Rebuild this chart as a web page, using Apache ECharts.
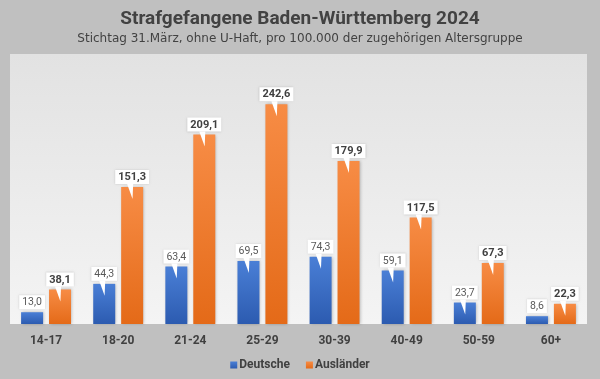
<!DOCTYPE html>
<html>
<head>
<meta charset="utf-8">
<script src="https://cdn.jsdelivr.net/npm/echarts@6/dist/echarts.min.js"></script>
<style>
html,body{margin:0;padding:0;background:#c0c0c0;}
#c{width:600px;height:379px;}
</style>
</head>
<body>
<div id="c"></div>
<script>
const categories = ['14-17','18-20','21-24','25-29','30-39','40-49','50-59','60+'];
const deutsche = [13.0, 44.3, 63.4, 69.5, 74.3, 59.1, 23.7, 8.6];
const auslaender = [38.1, 151.3, 209.1, 242.6, 179.9, 117.5, 67.3, 22.3];
const seriesNames = ['Deutsche', 'Ausländer'];
const titleText = 'Strafgefangene Baden-Württemberg 2024';
const subtitleText = 'Stichtag 31.März, ohne U-Haft, pro 100.000 der zugehörigen Altersgruppe';

const FONT = 'Roboto, "DejaVu Sans", sans-serif';
const YMAX = 298;
const chart = echarts.init(document.getElementById('c'), null, {renderer:'canvas'});
const fmt = p => p.value.toFixed(1).replace('.', ',');
function wedgeData(arr){
  return arr.map(v => ({value: v, symbolSize: (v / YMAX * 270 > 16) ? [6, 15] : [0, 0]}));
}
const blueGrad = new echarts.graphic.LinearGradient(0,0,0,1,[{offset:0,color:'#4a7fd6'},{offset:1,color:'#2c5bb0'}]);
const orangeGrad = new echarts.graphic.LinearGradient(0,0,0,1,[{offset:0,color:'#f78c45'},{offset:1,color:'#e46a18'}]);
const wedgePath = 'path://M0,0 L10,0 L9,30 Z';

chart.setOption({
  backgroundColor: '#c0c0c0',
  animation: false,
  title: [
    {text: titleText, left: 'center', top: 5,
     textStyle: {fontFamily: FONT, fontSize: 19, fontWeight: 'bold', color: '#424242'}},
    {text: subtitleText, left: 'center', top: 28,
     textStyle: {fontFamily: '"DejaVu Sans", sans-serif', fontSize: 12, fontWeight: 'normal', color: '#424242'}}
  ],
  legend: {
    data: seriesNames, bottom: 3, left: 'center', itemWidth: 7, itemHeight: 7, itemGap: 16,
    icon: 'rect',
    textStyle: {fontFamily: FONT, fontSize: 12, fontWeight: 'bold', color: '#404040', padding: [0,0,0,-3]}
  },
  grid: {
    left: 10, right: 13, top: 54, bottom: 55, show: true, borderWidth: 0,
    backgroundColor: new echarts.graphic.LinearGradient(0,0,0,1,[{offset:0,color:'#e2e2e2'},{offset:1,color:'#f4f4f4'}])
  },
  xAxis: {
    type: 'category', data: categories,
    axisLine: {show: false}, axisTick: {show: false},
    axisLabel: {fontFamily: FONT, fontSize: 12, fontWeight: 'bold', color: '#404040', margin: 11}
  },
  yAxis: {type: 'value', min: 0, max: YMAX, show: false, splitLine: {show: false}},
  series: [
    {name: seriesNames[0], type: 'bar', data: deutsche, barWidth: 22, barGap: '27%', z: 2,
     itemStyle: {color: blueGrad, shadowBlur: 3, shadowColor: 'rgba(0,0,0,0.25)', shadowOffsetX: 1, shadowOffsetY: 0},
     label: {show: true, position: 'top', distance: 3, formatter: fmt,
       fontFamily: FONT, fontSize: 10.5, color: '#595959', backgroundColor: '#ffffff',
       padding: [2,3,1,3], shadowBlur: 2, shadowColor: 'rgba(0,0,0,0.15)'}},
    {name: seriesNames[1], type: 'bar', data: auslaender, barWidth: 22, barGap: '27%', z: 2,
     itemStyle: {color: orangeGrad, shadowBlur: 3, shadowColor: 'rgba(0,0,0,0.25)', shadowOffsetX: 1, shadowOffsetY: 0},
     label: {show: true, position: 'top', distance: 3, formatter: fmt,
       fontFamily: FONT, fontSize: 11, fontWeight: 'bold', color: '#404040', backgroundColor: '#ffffff',
       padding: [2,3,1,3], shadowBlur: 2, shadowColor: 'rgba(0,0,0,0.15)'}},
    {type: 'pictorialBar', data: wedgeData(deutsche), barWidth: 22, barGap: '27%', z: 3,
     symbol: wedgePath, symbolPosition: 'end', symbolOffset: [-2, -3], symbolSize: [6, 15],
     itemStyle: {color: '#ffffff'}, silent: true, legendHoverLink: false},
    {type: 'pictorialBar', data: wedgeData(auslaender), barWidth: 22, barGap: '27%', z: 3,
     symbol: wedgePath, symbolPosition: 'end', symbolOffset: [-2, -3], symbolSize: [6, 15],
     itemStyle: {color: '#ffffff'}, silent: true, legendHoverLink: false}
  ]
});
</script>
</body>
</html>
